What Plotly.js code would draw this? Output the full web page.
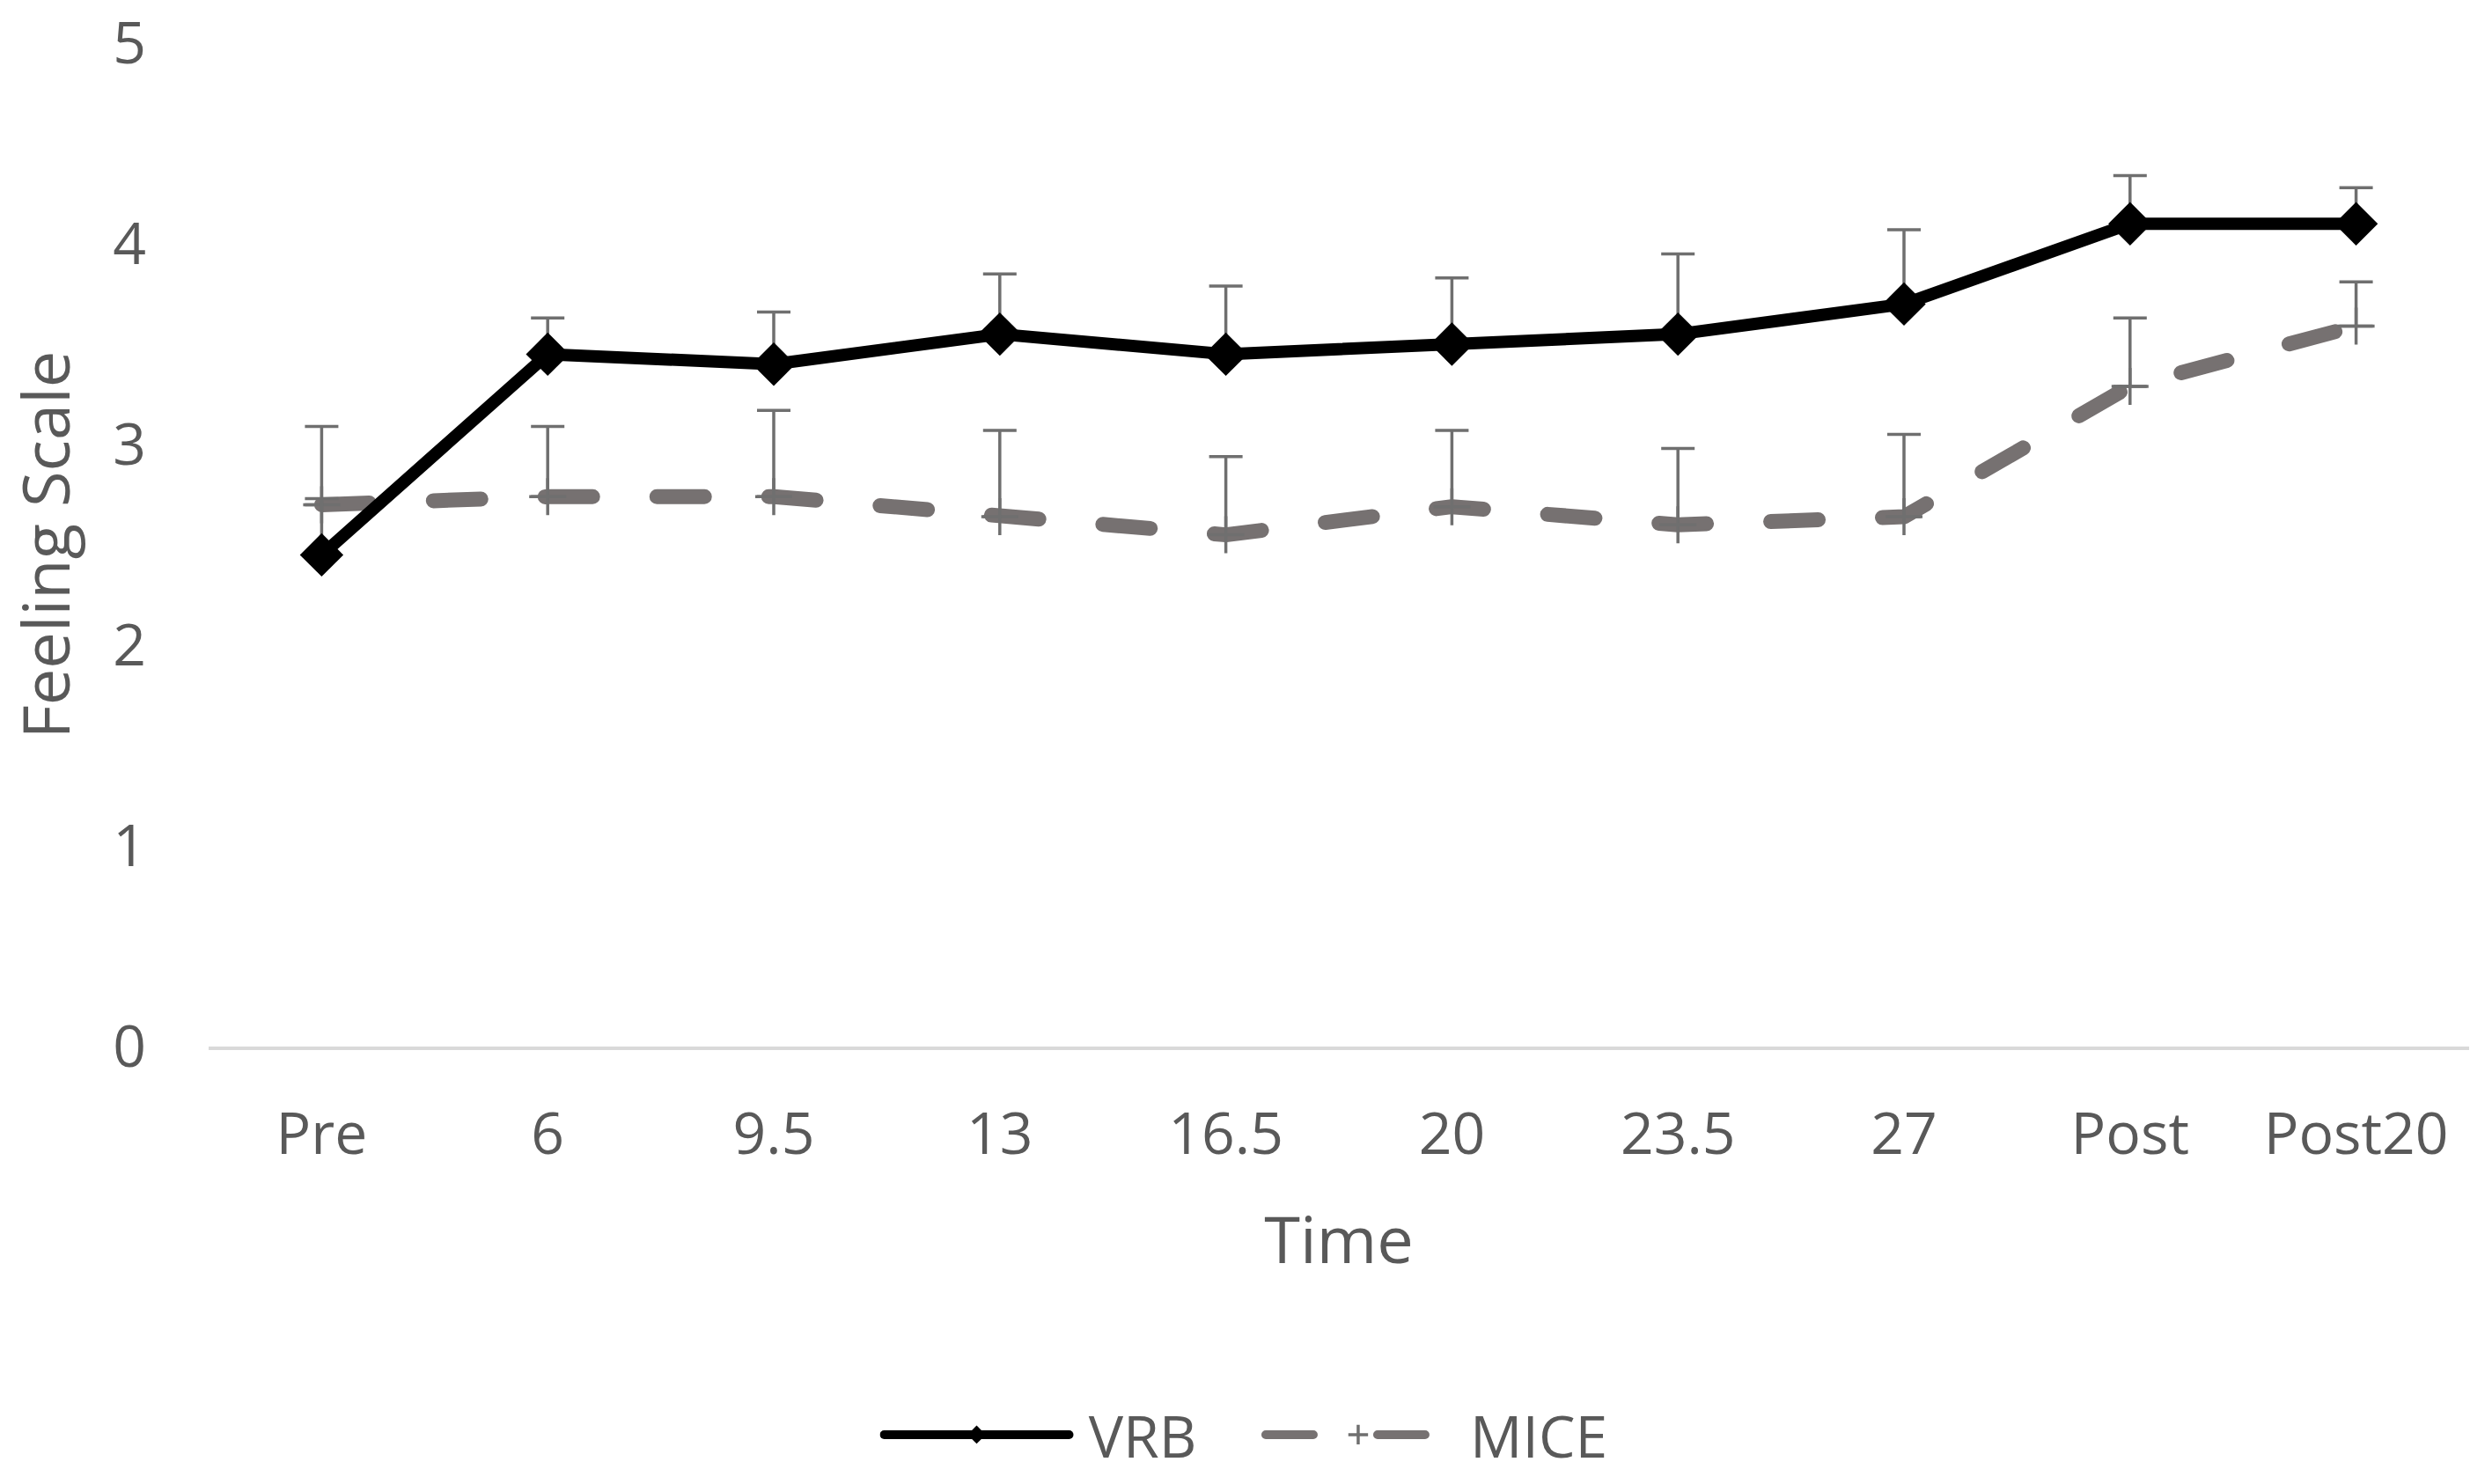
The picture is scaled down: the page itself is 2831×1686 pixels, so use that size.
<!DOCTYPE html>
<html>
<head>
<meta charset="utf-8">
<script src="https://cdn.plot.ly/plotly-3.0.1.min.js"></script>
<style>
  html, body { margin: 0; padding: 0; background: #ffffff; }
  #chart { width: 2831px; height: 1686px; }
  .scatterlayer .trace path.js-line { stroke-linecap: round; stroke-linejoin: round; }
  .legend .legendlines path { stroke-linecap: round; }
</style>
</head>
<body>
<div id="chart"></div>
<script>
const categories = ['Pre', '6', '9.5', '13', '16.5', '20', '23.5', '27', 'Post', 'Post20'];
const vrb     = [2.45, 3.45, 3.40, 3.55, 3.45, 3.50, 3.55, 3.70, 4.10, 4.10];
const vrbErr  = [0.28, 0.18, 0.26, 0.30, 0.34, 0.33, 0.40, 0.37, 0.24, 0.18];
const mice    = [2.70, 2.74, 2.74, 2.64, 2.55, 2.69, 2.60, 2.64, 3.29, 3.59];
const miceErr = [0.39, 0.35, 0.43, 0.43, 0.39, 0.38, 0.38, 0.41, 0.34, 0.22];
const yTicks  = [0, 1, 2, 3, 4, 5];

const zeros = categories.map(() => 0);
const textColor = '#595959';
const errColor = '#6f6f6f';
const font = 'Open Sans, Noto Sans, sans-serif';

const traceMice = {
  type: 'scatter', mode: 'lines+markers', name: '\u00a0MICE',
  x: categories, y: mice,
  line: { color: '#767171', width: 17, dash: '54px,73px' },
  marker: { symbol: 'cross-thin', size: 30, color: errColor, line: { color: errColor, width: 3.5 } },
  error_y: { type: 'data', symmetric: false, array: miceErr, arrayminus: zeros,
             color: errColor, thickness: 3.5, width: 19 }
};
const traceVrb = {
  type: 'scatter', mode: 'lines+markers', name: '\u00a0VRB\u00a0\u00a0\u00a0\u00a0',
  x: categories, y: vrb,
  line: { color: '#000000', width: 14 },
  marker: { symbol: 'diamond', size: 38, color: '#000000' },
  error_y: { type: 'data', symmetric: false, array: vrbErr, arrayminus: zeros,
             color: errColor, thickness: 3.5, width: 19 }
};

const layout = {
  width: 2831, height: 1686,
  margin: { l: 237, r: 26, t: 49, b: 497 },
  paper_bgcolor: '#ffffff', plot_bgcolor: '#ffffff',
  font: { family: font, color: textColor, size: 66 },
  showlegend: true,
  legend: {
    orientation: 'h', xref: 'container', yref: 'container',
    x: 0.5, xanchor: 'center', y: 0.0332, yanchor: 'middle',
    traceorder: 'reversed', itemwidth: 210, itemsizing: 'trace',
    font: { family: font, size: 66, color: textColor }
  },
  xaxis: {
    type: 'category', range: [-0.5, categories.length - 0.5],
    showgrid: false, zeroline: false,
    showline: true, linecolor: '#d9d9d9', linewidth: 4,
    ticks: '', ticklabelstandoff: 39,
    tickfont: { family: font, size: 66, color: textColor },
    title: { text: 'Time', font: { family: font, size: 74, color: textColor }, standoff: 55 },
    fixedrange: true
  },
  yaxis: {
    range: [0, 5], tickmode: 'array', tickvals: yTicks, ticktext: yTicks.map(String),
    showgrid: false, zeroline: false, showline: false,
    ticks: '', ticklabelstandoff: 70,
    tickfont: { family: font, size: 66, color: textColor },
    title: { text: 'Feeling Scale', font: { family: font, size: 74, color: textColor }, standoff: 30 },
    fixedrange: true
  }
};

Plotly.newPlot('chart', [traceMice, traceVrb], layout, { displayModeBar: false, staticPlot: true });
</script>
</body>
</html>
